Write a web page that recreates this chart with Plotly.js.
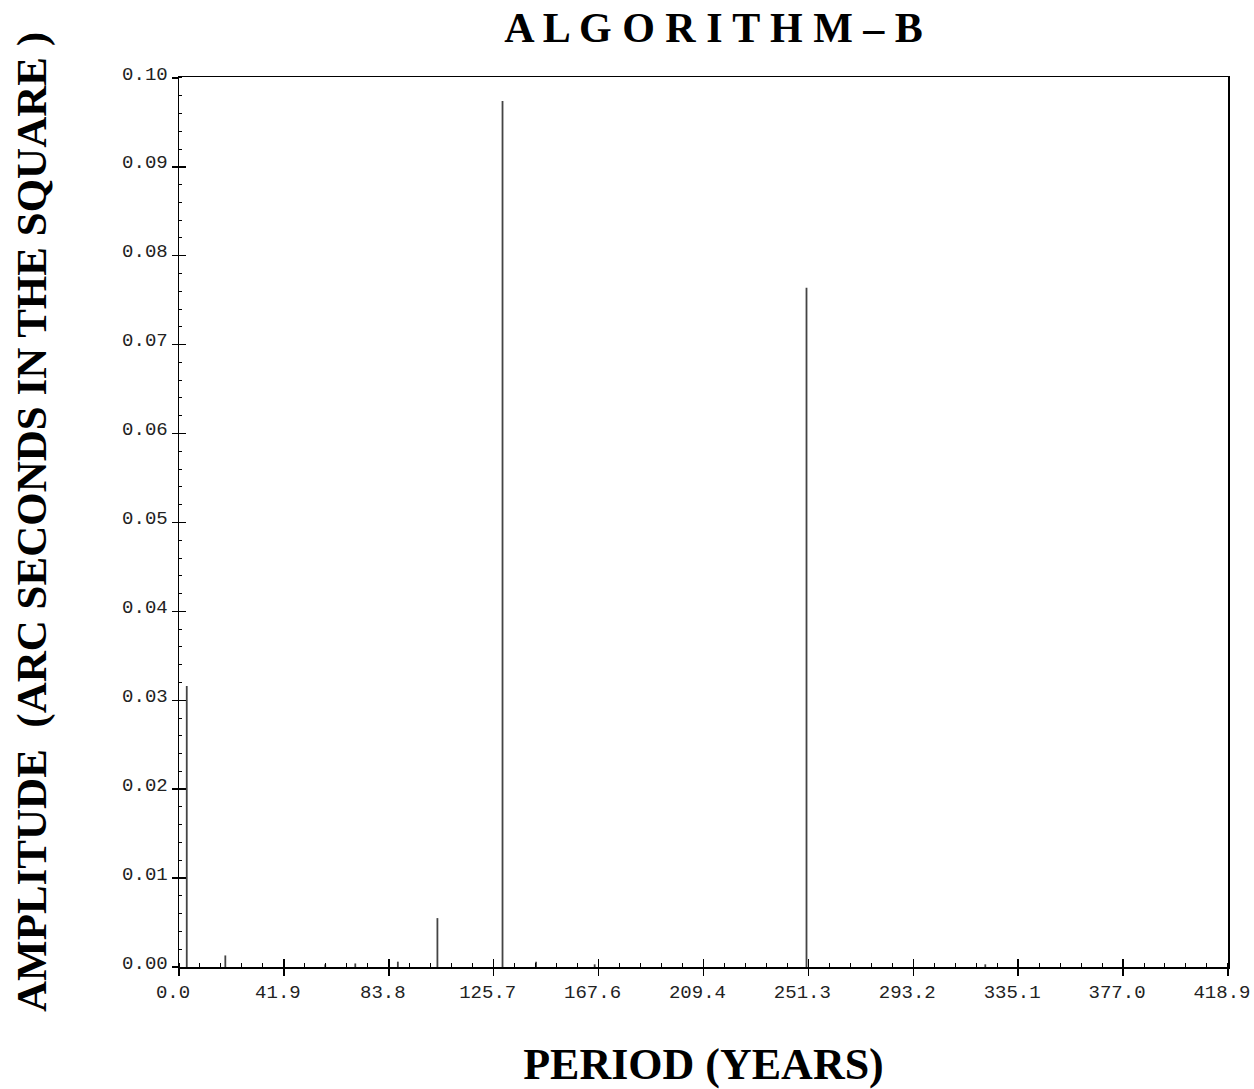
<!DOCTYPE html>
<html>
<head>
<meta charset="utf-8">
<script src="https://cdn.plot.ly/plotly-3.0.1.min.js"></script>
<style>html,body{margin:0;padding:0;background:#fff;}#chart{width:1254px;height:1089px;}</style>
</head>
<body>
<div id="chart"></div>
<script>
// Spectral peaks: period (years) and amplitude (arc seconds in the square)
const periods    = [3.1, 18.5, 58.4, 70.4, 87.4, 103.2, 129.2, 142.6, 166.0, 250.6, 322.0];
const amplitudes = [0.0316, 0.0013, 0.0003, 0.0004, 0.0006, 0.0055, 0.0974, 0.0006, 0.0003, 0.0764, 0.0003];

// Axis ticks
const xTickVals  = [0, 41.89, 83.78, 125.67, 167.56, 209.45, 251.34, 293.23, 335.12, 377.01, 418.9];
const xTickText  = ['0.0', '41.9', '83.8', '125.7', '167.6', '209.4', '251.3', '293.2', '335.1', '377.0', '418.9'];
const yTickVals  = [0, 0.01, 0.02, 0.03, 0.04, 0.05, 0.06, 0.07, 0.08, 0.09, 0.10];
const yTickText  = ['0.00', '0.01', '0.02', '0.03', '0.04', '0.05', '0.06', '0.07', '0.08', '0.09', '0.10'];

// Build stems (vertical lines from zero to amplitude) from the data
const stemX = [], stemY = [];
periods.forEach((p, i) => { stemX.push(p, p, null); stemY.push(0, amplitudes[i], null); });

const tickFont = {family: 'Liberation Mono, DejaVu Sans Mono, monospace', size: 19, color: '#222'};
const titleFont = {family: 'Liberation Serif, Times New Roman, serif', weight: 'bold', color: '#000'};

const traces = [
  {x: stemX, y: stemY, type: 'scatter', mode: 'lines',
   line: {color: '#444', width: 1.8}, hoverinfo: 'skip', showlegend: false},
  {x: [], y: [], xaxis: 'x2', yaxis: 'y2', type: 'scatter', mode: 'lines', showlegend: false}
];

const xRange = [0, 418.93];
const yRange = [0, 0.1001];

const layout = {
  width: 1254, height: 1089,
  margin: {l: 179, r: 26, t: 77, b: 122},
  paper_bgcolor: '#fff', plot_bgcolor: '#fff',
  showlegend: false,
  title: {text: 'A L G O R I T H M \u2013 B', font: Object.assign({size: 42}, titleFont),
          x: 0.569, xanchor: 'center', xref: 'container', y: 0.975, yanchor: 'middle', yref: 'container'},
  xaxis: {
    range: xRange, tickmode: 'array', tickvals: xTickVals, ticktext: xTickText,
    ticks: 'outside', ticklen: 7, tickwidth: 1.5, tickcolor: '#000',
    showline: true, linewidth: 1.5, linecolor: '#000', mirror: true,
    showgrid: false, zeroline: false, tickfont: tickFont, ticklabeloverflow: 'allow',
    ticklabelshift: -6,
    minor: {ticks: 'inside', ticklen: 4, tickwidth: 1, tickcolor: '#000', dtick: 8.378, tick0: 0, showgrid: false},
    title: {text: 'PERIOD (YEARS)', font: Object.assign({size: 44}, titleFont), standoff: 48}
  },
  yaxis: {
    range: yRange, tickmode: 'array', tickvals: yTickVals, ticktext: yTickText,
    ticks: 'outside', ticklen: 6, tickwidth: 1.5, tickcolor: '#000',
    showline: true, linewidth: 1.5, linecolor: '#000', mirror: true,
    showgrid: false, zeroline: false, tickfont: tickFont, ticklabelshift: -5,
    minor: {ticks: 'inside', ticklen: 3, tickwidth: 1, tickcolor: '#000', dtick: 0.002, tick0: 0, showgrid: false},
    title: {text: 'AMPLITUDE  (ARC SECONDS IN THE SQUARE )', font: Object.assign({size: 43}, titleFont), standoff: 62}
  },
  xaxis2: {
    overlaying: 'x', anchor: 'y', side: 'bottom', range: xRange,
    tickmode: 'array', tickvals: xTickVals, ticks: 'inside', ticklen: 8, tickwidth: 1.5, tickcolor: '#000',
    showticklabels: false, showline: false, showgrid: false, zeroline: false
  },
  yaxis2: {
    overlaying: 'y', anchor: 'x', side: 'left', range: yRange,
    tickmode: 'array', tickvals: yTickVals, ticks: 'inside', ticklen: 7, tickwidth: 1.5, tickcolor: '#000',
    showticklabels: false, showline: false, showgrid: false, zeroline: false
  }
};

Plotly.newPlot('chart', traces, layout, {displayModeBar: false, staticPlot: true});
</script>
</body>
</html>
